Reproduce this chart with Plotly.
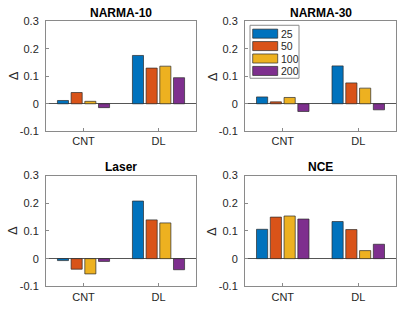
import plotly.graph_objects as go
from plotly.subplots import make_subplots

# categories and series
groups = ["CNT", "DL"]
series_names = ["25", "50", "100", "200"]
colors = ["#0072BD", "#D95319", "#EDB120", "#7E2F8E"]
panel_titles = ["NARMA-10", "NARMA-30", "Laser", "NCE"]

# values per panel: [series][group]
narma10 = [[0.012, 0.176], [0.041, 0.130], [0.009, 0.137], [-0.014, 0.095]]
narma30 = [[0.025, 0.138], [0.007, 0.076], [0.023, 0.057], [-0.028, -0.022]]
laser = [[-0.007, 0.208], [-0.038, 0.140], [-0.055, 0.129], [-0.010, -0.040]]
nce = [[0.106, 0.134], [0.150, 0.105], [0.154, 0.029], [0.143, 0.052]]

panels = [narma10, narma30, laser, nce]
y_ticks = [-0.1, 0, 0.1, 0.2, 0.3]
y_tick_text = ["-0.1", "0", "0.1", "0.2", "0.3"]

W, H = 419, 328
fig = make_subplots(rows=2, cols=2)

for k, data in enumerate(panels):
    r, c = k // 2 + 1, k % 2 + 1
    for i, vals in enumerate(data):
        fig.add_trace(
            go.Bar(x=[1, 2], y=vals, name=series_names[i],
                   marker=dict(color=colors[i], line=dict(color="#2b2b2b", width=0.7)),
                   showlegend=False),
            row=r, col=c)

# panel positions in pixels (left, right, top, bottom)
xdom = [(46, 196), (245, 396)]
ydom = [(16, 130), (176, 291)]

font_fam = "Liberation Sans, Arial, sans-serif"
for k in range(4):
    r, c = k // 2 + 1, k % 2 + 1
    xl, xr = xdom[c - 1]
    yt, yb = ydom[r - 1]
    fig.update_xaxes(domain=[xl / W, xr / W], range=[0.5, 2.5],
                     tickvals=[1, 2], ticktext=groups,
                     showline=True, mirror=True, linecolor="#8a8a8a", linewidth=1,
                     ticks="inside", ticklen=3, tickcolor="#8a8a8a",
                     showgrid=False, zeroline=False,
                     tickfont=dict(size=11, color="#262626", family=font_fam),
                     row=r, col=c)
    fig.update_yaxes(domain=[1 - yb / H, 1 - yt / H], range=[-0.1, 0.3],
                     tickvals=y_ticks, ticktext=y_tick_text,
                     showline=True, mirror=True, linecolor="#8a8a8a", linewidth=1,
                     ticks="inside", ticklen=3, tickcolor="#8a8a8a",
                     showgrid=False, zeroline=True, zerolinecolor="#555555",
                     zerolinewidth=1,
                     tickfont=dict(size=11, color="#262626", family=font_fam),
                     ticklabelstandoff=4,
                     row=r, col=c)
    # panel title
    fig.add_annotation(text="<b>" + panel_titles[k] + "</b>",
                       x=(xl + xr) / 2 / W, y=1 - (yt - 9) / H,
                       xref="paper", yref="paper", showarrow=False,
                       xanchor="center", yanchor="middle",
                       font=dict(size=12, color="#000000", family=font_fam))
    # y label
    fig.add_annotation(text="Δ", textangle=-90,
                       x=(xl - 33) / W, y=1 - ((yt + yb) / 2) / H,
                       xref="paper", yref="paper", showarrow=False,
                       xanchor="center", yanchor="middle",
                       font=dict(size=13, color="#262626", family=font_fam))

# legend box drawn in the NARMA-30 panel (MATLAB-style wide swatches)
lg_left, lg_top, lg_right, lg_bottom = 250, 20, 299, 75
fig.add_shape(type="rect", xref="paper", yref="paper",
              x0=lg_left / W, x1=lg_right / W, y0=1 - lg_bottom / H, y1=1 - lg_top / H,
              line=dict(color="#8a8a8a", width=1), fillcolor="white")
pitch = 12.9
for i, name in enumerate(series_names):
    yc = 28.7 + i * pitch
    fig.add_shape(type="rect", xref="paper", yref="paper",
                  x0=252.7 / W, x1=277.7 / W,
                  y0=1 - (yc + 4.7) / H, y1=1 - (yc - 4.7) / H,
                  line=dict(color="#2b2b2b", width=0.7), fillcolor=colors[i])
    fig.add_annotation(text=name, x=279 / W, y=1 - yc / H,
                       xref="paper", yref="paper", showarrow=False,
                       xanchor="left", yanchor="middle",
                       font=dict(size=10.5, color="#262626", family=font_fam))

fig.update_layout(
    width=W, height=H,
    margin=dict(l=0, r=0, t=0, b=0),
    paper_bgcolor="white", plot_bgcolor="white",
    barmode="group", bargap=0.27, bargroupgap=0.19,
    showlegend=False,
)

fig.write_html("out.html", config={"displayModeBar": False},
               post_script="document.body.style.margin='0';")
